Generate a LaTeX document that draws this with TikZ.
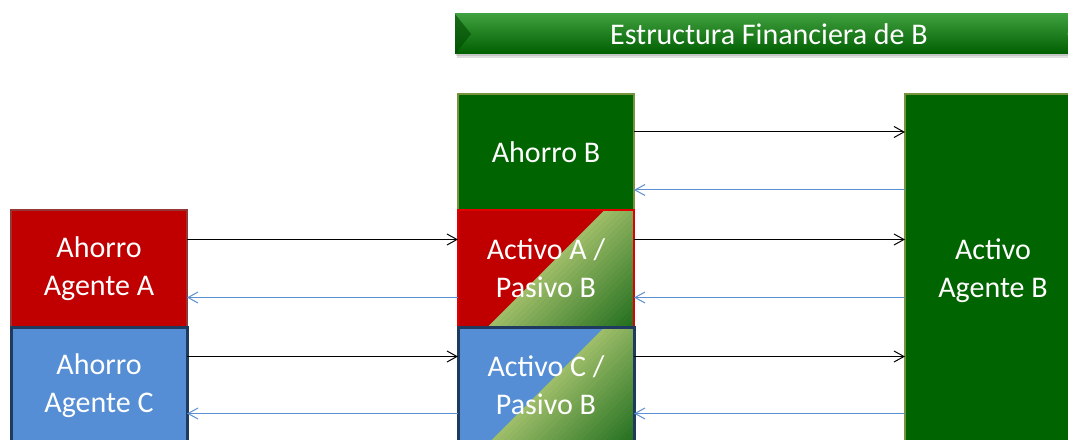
\documentclass[tikz,border=0pt]{standalone}
\usepackage{fontspec}
\setmainfont{Carlito}
\usetikzlibrary{positioning, arrows.meta, calc}
\definecolor{dkgreen}{HTML}{006400}
\definecolor{olivebd}{HTML}{77933C}
\definecolor{agred}{HTML}{C00000}
\definecolor{redbd}{HTML}{953735}
\definecolor{brightbd}{HTML}{E00000}
\definecolor{agblue}{HTML}{558ED5}
\definecolor{navybd}{HTML}{1F3A5F}
\definecolor{lgr}{HTML}{9DBD68}
\definecolor{dgr}{HTML}{1A6A1A}
\definecolor{flowblue}{HTML}{5B8FD3}
\definecolor{bantop}{HTML}{3FA03F}
\definecolor{banbot}{HTML}{005E00}

\begin{document}
\begin{tikzpicture}[x=0.5pt, y=0.5pt,
    box/.style={minimum width=88pt, minimum height=58.5pt, inner sep=0pt, outer sep=0pt,
        text=white, align=center, font=\fontsize{15}{19}\selectfont, line width=1.2pt},
    split/.style={path picture={
        \fill[#1] (path picture bounding box.south west) rectangle (path picture bounding box.north east);
        \foreach \i in {0,...,24}{
            \pgfmathtruncatemacro\mix{100-4*\i}
            \pgfmathsetmacro\dd{3*\i-60}
            \fill[lgr!\mix!dgr] ($(path picture bounding box.center)+(\dd pt,-60pt)$)
                -- ++(120pt,120pt) -- ++(3.3pt,0pt) -- ++(-120pt,-120pt) -- cycle;
        }
    }},
    banner/.style={minimum width=314pt, minimum height=20pt, inner sep=0pt, outer sep=0pt,
        top color=bantop, bottom color=banbot, text=white, font=\fontsize{15}{18}\selectfont,
        path picture={
            \fill[banbot!80!black, opacity=0.6] (path picture bounding box.south west) -- ++(8pt,10pt)
                -- (path picture bounding box.north west) -- cycle;
            \fill[bantop!70!white, opacity=0.5] (path picture bounding box.south east) -- ++(-8pt,10pt)
                -- (path picture bounding box.north east) -- cycle;
        }},
    fwd/.style={-{Straight Barb[length=5pt, width=5.5pt]}, black, line width=0.5pt},
    bwd/.style={-{Straight Barb[length=5pt, width=5.5pt]}, flowblue, line width=0.5pt}]
    \useasboundingbox (0,0) rectangle (1068,439);

    \fill[black, opacity=0.12] (457,381) rectangle (1085,421);
    \fill[black, opacity=0.12] (456,383) rectangle (1084,423);
    \node[banner] (tit) at (769,405) {Estructura Financiera de B};

    \node[box, minimum height=58pt, fill=dkgreen, draw=olivebd] (ahB) at (546,287) {Ahorro B};
    \node[box, split=agred, draw=brightbd, below=0pt of ahB] (acA) {Activo A /\\Pasivo B};
    \node[box, split=agblue, draw=navybd, line width=1.5pt, below=0pt of acA] (acC) {Activo C /\\Pasivo B};
    \node[box, fill=agred, draw=redbd, left=135.5pt of acA] (agA) {Ahorro\\Agente A};
    \node[box, fill=agblue, draw=navybd, line width=1.5pt, below=0pt of agA] (agC) {Ahorro\\Agente C};
    \node[box, minimum height=177pt, fill=dkgreen, draw=olivebd] (acB) at (993,168) {Activo\\Agente B};

    \draw[fwd] ([yshift=10pt]ahB.east) -- ($(ahB.east -| acB.west)+(0,20)$);
    \draw[bwd] ($(ahB.east -| acB.west)+(0,-38)$) -- ([yshift=-19pt]ahB.east);

    \draw[fwd] ([yshift=14.5pt]agA.east) -- ([yshift=14.5pt]acA.west);
    \draw[bwd] ([yshift=-14.5pt]acA.west) -- ([yshift=-14.5pt]agA.east);
    \draw[fwd] ([yshift=14.5pt]acA.east) -- ($(acA.east -| acB.west)+(0,29)$);
    \draw[bwd] ($(acA.east -| acB.west)+(0,-29)$) -- ([yshift=-14.5pt]acA.east);

    \draw[fwd] ([yshift=14.5pt]agC.east) -- ([yshift=14.5pt]acC.west);
    \draw[bwd] ([yshift=-14pt]acC.west) -- ([yshift=-14pt]agC.east);
    \draw[fwd] ([yshift=14.5pt]acC.east) -- ($(acC.east -| acB.west)+(0,29)$);
    \draw[bwd] ($(acC.east -| acB.west)+(0,-28)$) -- ([yshift=-14pt]acC.east);
\end{tikzpicture}
\end{document}
